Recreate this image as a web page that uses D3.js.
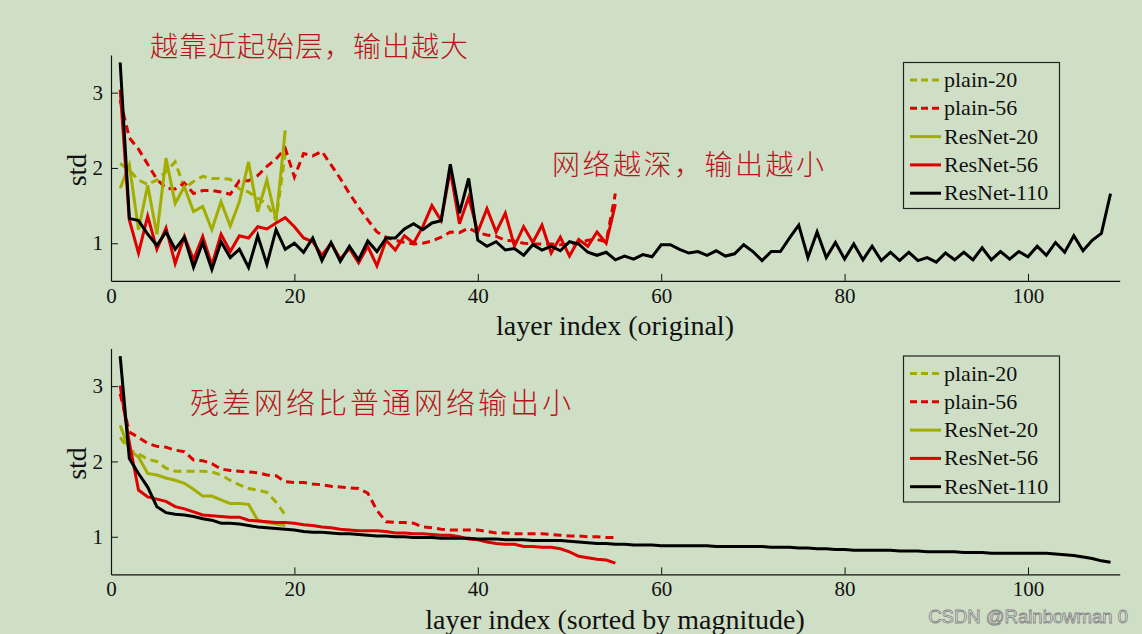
<!DOCTYPE html>
<html>
<head>
<meta charset="utf-8">
<script src="https://cdn.jsdelivr.net/npm/d3@7"></script>
<style>
  html, body { margin: 0; padding: 0; background: #cfdfc5; }
  svg { display: block; }
</style>
</head>
<body>
<svg id="chart" width="1142" height="634"></svg>
<script>
// top panel: std per layer, in original order
const plain20 = [2.06, 1.97, 1.84, 1.78, 1.84, 1.95, 2.08, 1.73, 1.82, 1.89, 1.86, 1.86, 1.85, 1.72, 1.68, 1.60, 1.52, 1.31, 2.20];
const plain56 = [2.90, 2.40, 2.25, 2.05, 1.85, 1.73, 1.72, 1.80, 1.66, 1.70,
    1.70, 1.68, 1.65, 1.83, 1.83, 1.90, 2.02, 2.12, 2.26, 1.88,
    2.19, 2.16, 2.22, 2.04, 1.86, 1.66, 1.48, 1.31, 1.15, 1.08,
    1.04, 1.01, 0.99, 1.00, 1.03, 1.08, 1.15, 1.14, 1.20, 1.14,
    1.11, 1.09, 1.04, 1.03, 1.00, 0.99, 0.99, 0.99, 0.98, 0.99,
    1.00, 1.04, 1.05, 1.02, 1.66];
const resnet20 = [1.73, 2.04, 1.18, 1.77, 1.12, 2.13, 1.53, 1.75, 1.42, 1.49, 1.18, 1.55, 1.23, 1.55, 2.08, 1.42, 1.84, 1.31, 2.50];
const resnet56 = [3.04, 1.31, 0.87, 1.36, 0.92, 1.20, 0.73, 1.09, 0.78, 1.09,
    0.71, 1.12, 0.89, 1.10, 1.07, 1.22, 1.19, 1.27, 1.34, 1.22,
    1.07, 1.02, 0.84, 1.00, 0.79, 0.93, 0.74, 0.96, 0.70, 1.04,
    0.91, 1.10, 1.00, 1.22, 1.50, 1.30, 1.97, 1.26, 1.61, 1.15,
    1.46, 1.15, 1.40, 0.96, 1.22, 1.01, 1.24, 0.87, 1.08, 0.83,
    1.05, 0.96, 1.15, 1.00, 1.52];
const resnet110 = [3.40, 1.33, 1.30, 1.12, 0.97, 1.15, 0.92, 1.08, 0.68, 1.01,
    0.65, 1.02, 0.81, 0.92, 0.68, 1.10, 0.72, 1.18, 0.92, 1.00,
    0.88, 1.07, 0.77, 1.01, 0.76, 0.96, 0.78, 1.03, 0.89, 1.07,
    1.07, 1.19, 1.26, 1.18, 1.27, 1.30, 2.05, 1.40, 1.86, 1.04,
    0.96, 1.02, 0.91, 0.93, 0.84, 0.98, 0.91, 0.96, 0.90, 1.02,
    0.99, 0.88, 0.84, 0.88, 0.78, 0.83, 0.79, 0.85, 0.82, 0.98,
    0.98, 0.92, 0.87, 0.89, 0.84, 0.90, 0.83, 0.86, 0.98, 0.89,
    0.77, 0.89, 0.89, 1.07, 1.24, 0.81, 1.15, 0.81, 1.01, 0.79,
    0.99, 0.78, 0.96, 0.77, 0.88, 0.77, 0.88, 0.77, 0.81, 0.75,
    0.87, 0.78, 0.88, 0.78, 0.94, 0.78, 0.89, 0.79, 0.89, 0.82,
    0.96, 0.84, 1.01, 0.88, 1.10, 0.90, 1.04, 1.13, 1.66];

// bottom panel: same std values sorted by magnitude
const sortedPlain20 = [2.32, 2.15, 2.10, 2.03, 2.00, 1.91, 1.87, 1.87, 1.87, 1.87, 1.86, 1.82, 1.75, 1.69, 1.64, 1.62, 1.59, 1.46, 1.29];
const sortedPlain56 = [2.90, 2.39, 2.32, 2.24, 2.20, 2.19, 2.15, 2.13, 2.02, 2.01,
    1.97, 1.90, 1.88, 1.87, 1.86, 1.85, 1.82, 1.81, 1.73, 1.72,
    1.72, 1.70, 1.69, 1.67, 1.66, 1.65, 1.64, 1.58, 1.35, 1.20,
    1.19, 1.19, 1.18, 1.13, 1.12, 1.10, 1.09, 1.09, 1.09, 1.09,
    1.07, 1.05, 1.05, 1.04, 1.04, 1.04, 1.04, 1.03, 1.02, 1.01,
    1.01, 1.00, 1.00, 0.99, 0.99];
const sortedResnet20 = [2.48, 2.15, 2.06, 1.84, 1.82, 1.78, 1.75, 1.71, 1.63, 1.54, 1.54, 1.49, 1.44, 1.44, 1.43, 1.22, 1.19, 1.17, 1.15];
const sortedResnet56 = [3.01, 2.25, 1.62, 1.53, 1.50, 1.47, 1.40, 1.37, 1.33, 1.29,
    1.28, 1.27, 1.26, 1.26, 1.22, 1.21, 1.20, 1.19, 1.19, 1.18,
    1.16, 1.15, 1.13, 1.12, 1.10, 1.09, 1.08, 1.08, 1.08, 1.07,
    1.05, 1.05, 1.04, 1.04, 1.03, 1.02, 1.02, 1.00, 0.97, 0.96,
    0.93, 0.91, 0.90, 0.90, 0.87, 0.87, 0.86, 0.86, 0.84, 0.80,
    0.74, 0.72, 0.70, 0.69, 0.65];
const sortedResnet110 = [3.40, 2.04, 1.84, 1.66, 1.40, 1.32, 1.30, 1.29, 1.27, 1.24,
    1.22, 1.18, 1.18, 1.17, 1.15, 1.13, 1.12, 1.11, 1.10, 1.09,
    1.07, 1.06, 1.06, 1.05, 1.04, 1.04, 1.03, 1.02, 1.01, 1.01,
    1.00, 1.00, 0.99, 0.99, 0.99, 0.98, 0.98, 0.98, 0.98, 0.97,
    0.97, 0.97, 0.96, 0.96, 0.96, 0.95, 0.95, 0.95, 0.95, 0.94,
    0.93, 0.92, 0.91, 0.91, 0.90, 0.90, 0.89, 0.89, 0.89, 0.88,
    0.88, 0.88, 0.88, 0.88, 0.88, 0.87, 0.87, 0.87, 0.87, 0.87,
    0.87, 0.86, 0.86, 0.86, 0.85, 0.85, 0.84, 0.84, 0.83, 0.83,
    0.82, 0.82, 0.82, 0.82, 0.82, 0.81, 0.81, 0.81, 0.80, 0.80,
    0.80, 0.80, 0.79, 0.79, 0.79, 0.78, 0.78, 0.78, 0.78, 0.78,
    0.78, 0.78, 0.77, 0.76, 0.75, 0.73, 0.71, 0.68, 0.66];

const seriesNames = ["plain-20", "plain-56", "ResNet-20", "ResNet-56", "ResNet-110"];
const xTicks = [0, 20, 40, 60, 80, 100];
const yTicks = [1, 2, 3];

const olive = "#a2ad00";
const red = "#dd0000";
const styles = {
    "plain-20": { color: olive, dash: "8,5" },
    "plain-56": { color: red, dash: "8,5" },
    "ResNet-20": { color: olive, dash: null },
    "ResNet-56": { color: red, dash: null },
    "ResNet-110": { color: "#000000", dash: null },
};

const svg = d3.select("#chart");
const serif = "'Liberation Serif', 'Times New Roman', serif";
const cjk = "'Noto Sans CJK SC', sans-serif";

function drawPanel(offsetY, seriesData, xLabel) {
    const g = svg.append("g").attr("transform", `translate(0,${offsetY})`);
    const x = d3.scaleLinear().domain([0, 110]).range([111, 1119.7]);
    const y = d3.scaleLinear().domain([0.5, 3.5]).range([280.9, 55]);

    // data lines
    const line = d3.line()
        .x((d, i) => x(i + 1))
        .y(d => y(d));

    seriesNames.forEach(name => {
        const st = styles[name];
        g.append("path")
            .datum(seriesData[name])
            .attr("d", line)
            .attr("fill", "none")
            .attr("stroke", st.color)
            .attr("stroke-width", 3)
            .attr("stroke-linejoin", "miter")
            .attr("stroke-dasharray", st.dash);
    });

    // axes: ticks point inward
    const xAxis = g.append("g")
        .attr("transform", `translate(0,${y(0.5)})`)
        .call(d3.axisBottom(x).tickValues(xTicks).tickFormat(d3.format("d"))
            .tickSizeInner(-7).tickSizeOuter(0).tickPadding(7));
    const yAxis = g.append("g")
        .attr("transform", `translate(${x(0)},0)`)
        .call(d3.axisLeft(y).tickValues(yTicks).tickFormat(d3.format("d"))
            .tickSizeInner(-7).tickSizeOuter(0).tickPadding(6));

    [xAxis, yAxis].forEach(ax => {
        ax.select(".domain").attr("stroke", "#111").attr("stroke-width", 1.2);
        ax.selectAll(".tick line").attr("stroke", "#111").attr("stroke-width", 1);
        ax.selectAll(".tick text")
            .attr("font-family", serif)
            .attr("font-size", 21)
            .attr("fill", "#111");
    });
    yAxis.selectAll(".tick text").attr("dx", "-2");

    g.append("text")
        .attr("x", 615)
        .attr("y", 335)
        .attr("text-anchor", "middle")
        .attr("font-family", serif)
        .attr("font-size", 28)
        .attr("fill", "#111")
        .text(xLabel);

    g.append("text")
        .attr("transform", `translate(86,170) rotate(-90)`)
        .attr("text-anchor", "middle")
        .attr("font-family", serif)
        .attr("font-size", 28)
        .attr("fill", "#111")
        .text("std");

    // legend
    const legend = g.append("g");
    legend.append("rect")
        .attr("x", 903.5)
        .attr("y", 62.5)
        .attr("width", 156)
        .attr("height", 146)
        .attr("fill", "none")
        .attr("stroke", "#222")
        .attr("stroke-width", 1.2);

    seriesNames.forEach((name, i) => {
        const rowY = 80 + i * 28.3;
        const st = styles[name];
        legend.append("line")
            .attr("x1", 910).attr("x2", 941)
            .attr("y1", rowY).attr("y2", rowY)
            .attr("stroke", st.color)
            .attr("stroke-width", 3)
            .attr("stroke-dasharray", st.dash ? "7,4" : null);
        legend.append("text")
            .attr("x", 944)
            .attr("y", rowY + 7)
            .attr("font-family", serif)
            .attr("font-size", 22)
            .attr("fill", "#111")
            .text(name);
    });

    return g;
}

drawPanel(0, {
    "plain-20": plain20,
    "plain-56": plain56,
    "ResNet-20": resnet20,
    "ResNet-56": resnet56,
    "ResNet-110": resnet110,
}, "layer index (original)");

drawPanel(293.5, {
    "plain-20": sortedPlain20,
    "plain-56": sortedPlain56,
    "ResNet-20": sortedResnet20,
    "ResNet-56": sortedResnet56,
    "ResNet-110": sortedResnet110,
}, "layer index (sorted by magnitude)");

// handwritten notes
const notes = [
    { text: "越靠近起始层，输出越大", x: 150, y: 45, size: 28, spacing: 1 },
    { text: "网络越深，输出越小", x: 552, y: 163, size: 28, spacing: 2.5 },
    { text: "残差网络比普通网络输出小", x: 190, y: 401, size: 29, spacing: 3 },
];
notes.forEach(n => {
    svg.append("text")
        .attr("x", n.x)
        .attr("y", n.y)
        .attr("dominant-baseline", "central")
        .attr("font-family", cjk)
        .attr("font-weight", 300)
        .attr("font-size", n.size)
        .attr("letter-spacing", n.spacing)
        .attr("fill", "#b8141c")
        .text(n.text);
});

// watermark
svg.append("text")
    .attr("x", 1128)
    .attr("y", 623)
    .attr("text-anchor", "end")
    .attr("font-family", "'Liberation Sans', Arial, sans-serif")
    .attr("font-size", 18.5)
    .attr("fill", "#eeeeee")
    .attr("stroke", "#808080")
    .attr("stroke-width", 0.8)
    .text("CSDN @Rainbowman 0");
</script>
</body>
</html>
